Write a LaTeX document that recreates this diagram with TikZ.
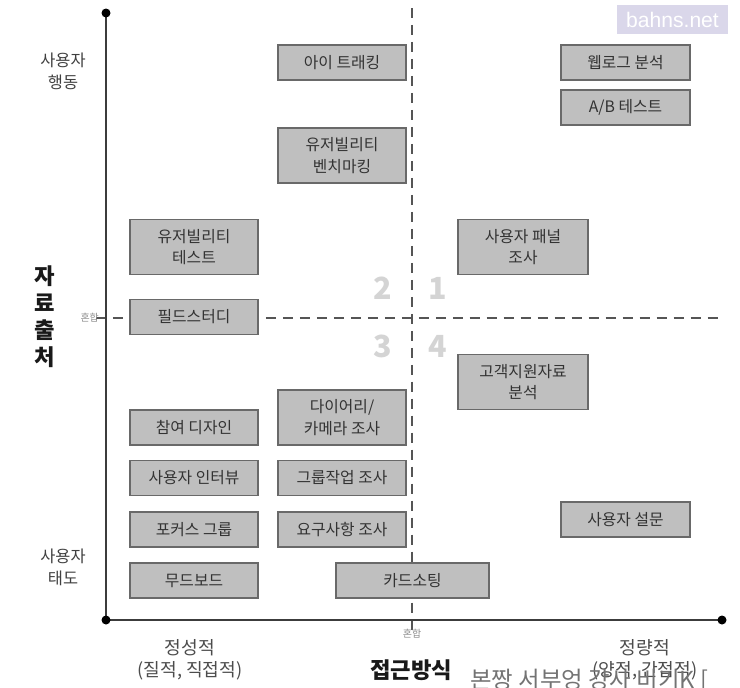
\documentclass[tikz,border=0pt]{standalone}
\usepackage{fontspec}
\setmainfont{Noto Sans CJK KR}
\newfontfamily\wmfont{Liberation Sans}
\usetikzlibrary{positioning}
\definecolor{BoxFill}{RGB}{191,191,191}
\definecolor{BoxLine}{RGB}{105,105,105}
\definecolor{AxisGray}{RGB}{60,60,60}
\definecolor{DashGray}{RGB}{85,85,85}
\definecolor{NumGray}{RGB}{212,212,212}
\definecolor{MarkLav}{RGB}{218,215,234}
\tikzset{
  gbox/.style={draw=BoxLine,fill=BoxFill,line width=1.3pt,
               minimum width=3.84cm,minimum height=1.05cm,inner sep=1pt,
               align=center,font=\fontsize{13.5}{18.5}\selectfont,text=black!80},
  gbox2/.style={gbox,minimum height=1.65cm},
  axisline/.style={AxisGray,line width=2pt},
  qline/.style={DashGray,line width=1.5pt,dash pattern=on 8.5pt off 6pt},
  qnum/.style={font=\fontsize{26}{26}\bfseries\selectfont,text=NumGray},
  side/.style={align=center,text=black!75,font=\fontsize{14}{18.8}\selectfont},
  ttl/.style={align=center,text=black!90,font=\fontsize{19}{23}\bfseries\selectfont},
  mix/.style={text=black!45,font=\fontsize{8.5}{10}\selectfont},
  dot/.style={circle,fill=black,inner sep=0pt,minimum size=0.27cm},
}

\begin{document}
\begin{tikzpicture}[x=0.03cm,y=-0.03cm]
  \useasboundingbox (0,0) rectangle (740,687);
  % axes and quadrant lines
  \coordinate (top) at (106,13);
  \coordinate (o) at (106,620);
  \coordinate (xend) at (722,620);
  \coordinate (vt) at (412,8);
  \coordinate (vb) at (412,630);
  \coordinate (hl) at (96,318);
  \coordinate (hr) at (722,318);
  \draw[qline] (vt) -- (vb);
  \draw[qline] (hl) -- (hr);
  \draw[axisline] (top) -- (o) -- (xend);
  \node[dot] at (top) {}; \node[dot] at (o) {}; \node[dot] at (xend) {};

  \node[qnum] (q2) at (383,288) {2};
  \node[qnum] (q1) at (438,288) {1};
  \node[qnum] (q3) at (383,346) {3};
  \node[qnum] (q4) at (438,346) {4};

  % methods
  \node[gbox2] (ut) at (194,247) {유저빌리티\\테스트};
  \node[gbox]  (fs) at (194,317) {필드스터디};
  \node[gbox]  (pd) at (194,427.5) {참여 디자인};
  \node[gbox]  (ui) at (194,478) {사용자 인터뷰};
  \node[gbox]  (fg) at (194,529.5) {포커스 그룹};
  \node[gbox]  (mb) at (194,580.5) {무드보드};
  \node[gbox]  (et) at (342,62.5) {아이 트래킹};
  \node[gbox2] (ub) at (342,155.5) {유저빌리티\\벤치마킹};
  \node[gbox2] (dc) at (342,417.5) {다이어리/\\카메라 조사};
  \node[gbox]  (gw) at (342,478) {그룹작업 조사};
  \node[gbox]  (rq) at (342,529.5) {요구사항 조사};
  \node[gbox,minimum width=4.59cm] (cs) at (412.5,580.5) {카드소팅};
  \node[gbox2,minimum width=3.9cm] (up) at (523,247) {사용자 패널\\조사};
  \node[gbox2,minimum width=3.9cm] (cd) at (523,382) {고객지원자료\\분석};
  \node[gbox,minimum width=3.87cm] (wl) at (625.5,62.5) {웹로그 분석};
  \node[gbox,minimum width=3.87cm] (ab) at (625.5,107.5) {A/B 테스트};
  \node[gbox,minimum width=3.87cm] (sv) at (625.5,519.5) {사용자 설문};

  % axis labels
  \node[side] (beh) at (63,71) {사용자\\행동};
  \node[side] (att) at (63,567) {사용자\\태도};
  \node[ttl] (src) at (45,317) {자\\료\\출\\처};
  \node[mix,anchor=east] (mixy) at (103,318) {혼합};
  \node[mix] (mixx) at (412,634) {혼합};
  \node[side,text=black!70,font=\fontsize{15.5}{18.8}\selectfont] (qual) at (190,660) {정성적\\(질적, 직접적)};
  \node[side,text=black!70,font=\fontsize{15.5}{18.8}\selectfont] (quan) at (645,660) {정량적\\(양적, 간접적)};
  \node[ttl] (appr) at (411,670) {접근방식};
  \node[anchor=north west,text=black!55,font=\fontsize{20}{22}\selectfont] (tail) at (466,665) {본짱 서부엉 강사 비기K [};

  % watermark
  \node[fill=MarkLav,minimum width=3.33cm,minimum height=0.87cm,text=white,
        font=\wmfont\fontsize{18}{18}\selectfont] (mark) at (672.5,19.5) {bahns.net};
\end{tikzpicture}
\end{document}
